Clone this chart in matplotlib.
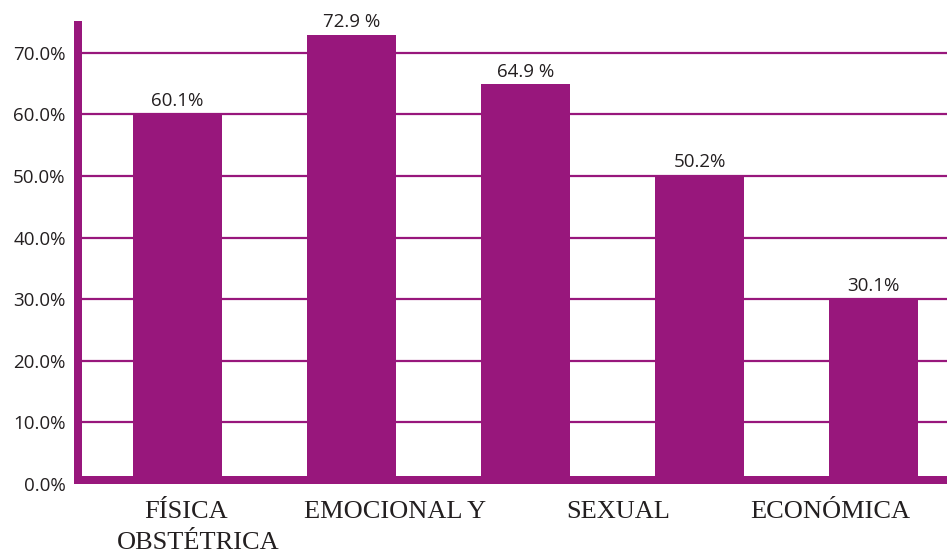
import matplotlib
matplotlib.use("Agg")
import matplotlib.pyplot as plt

categories = ["FÍSICA", "OBSTÉTRICA", "EMOCIONAL Y", "SEXUAL", "ECONÓMICA"]
values = [60.1, 72.9, 64.9, 50.2, 30.1]
value_labels = ["60.1%", "72.9 %", "64.9 %", "50.2%", "30.1%"]
yticks = [0, 10, 20, 30, 40, 50, 60, 70]
ytick_labels = ["%.1f%%" % v for v in yticks]

purple = "#98177C"
ink = "#231F20"

W, H = 947, 554
fig = plt.figure(figsize=(W / 100, H / 100), dpi=100)

# axes placed in pixels: left edge of the thick axis bar, zero line, top of axis bar
left_px, zero_px, top_px = 74, 484, 21
ax = fig.add_axes([left_px / W, (H - zero_px) / H, (W - left_px) / W, (zero_px - top_px) / H])

step = 174.0  # px between bar centres
first = 177.5  # px centre of first bar
ppu = 6.16  # px per percentage point
x0 = (left_px - first) / step
x1 = (W - first) / step
ytop = (zero_px - top_px) / ppu
ax.set_xlim(x0, x1)
ax.set_ylim(0, ytop)

inner = x0 + 8 / step
ax.hlines(yticks[1:], inner, x1, color=purple, lw=1.6, zorder=1)
ax.axvspan(x0, inner, color=purple, lw=0, zorder=3)
ax.axhspan(0, 8 / ppu, color=purple, lw=0, zorder=3)

xs = list(range(len(values)))
ax.bar(xs, values, width=89 / step, color=purple, zorder=2)

for x, v, lab in zip(xs, values, value_labels):
    ax.text(x, v + 0.6, lab, ha="center", va="bottom", fontsize=13.5,
            family="Open Sans", color=ink)

ax.set_yticks(yticks)
ax.set_yticklabels(ytick_labels, fontsize=13.5, family="Open Sans", color=ink)
ax.tick_params(axis="y", length=0, pad=6)
ax.set_xticks([])
for s in ax.spines.values():
    s.set_visible(False)

# category labels sit off-centre in the original
label_x = [0.05, 0.12, 1.25, 2.53, 3.75]
label_y = [-28, -59, -28, -28, -28]  # px below the zero line (text centre)
for x, y, lab in zip(label_x, label_y, categories):
    ax.text(x, y / ppu, lab, ha="center", va="center", fontsize=19,
            family="Liberation Serif", color=ink, clip_on=False)

fig.savefig("out.png", dpi=100)
